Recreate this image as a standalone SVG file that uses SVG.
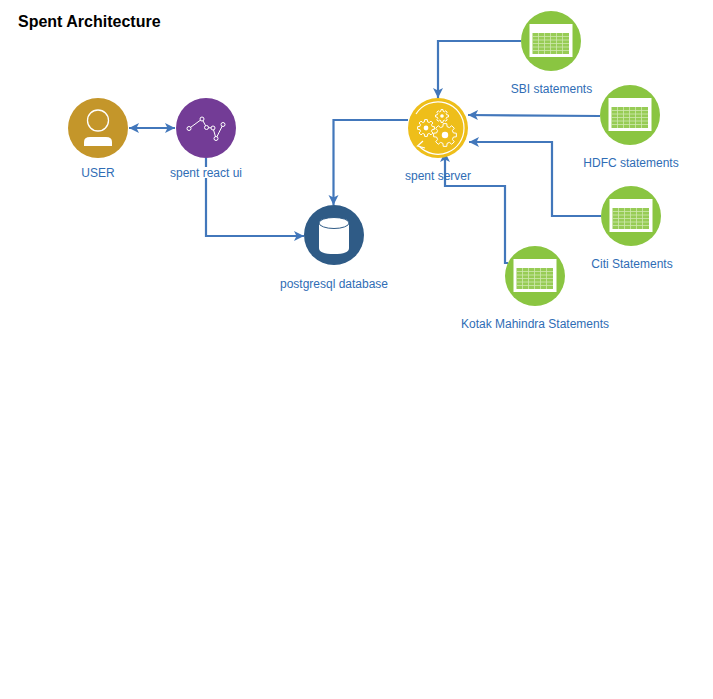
<svg xmlns="http://www.w3.org/2000/svg" xmlns:xlink="http://www.w3.org/1999/xlink" width="713" height="699" viewBox="0 0 713 699">
<style>
text{font-family:"Liberation Sans",Arial,sans-serif;font-size:12px;fill:#2f6db5;text-anchor:middle}
.title{font-size:16px;font-weight:bold;fill:#000;text-anchor:start}
.c{fill:none;stroke:#4277bb;stroke-width:2.200}
.w{fill:none;stroke:#fff}
.gp{fill:#eebe1a;stroke:#fff;stroke-width:1;vector-effect:non-scaling-stroke;stroke-linejoin:round}
</style>
<defs>
<marker id="a" markerUnits="userSpaceOnUse" markerWidth="12" markerHeight="12" refX="10" refY="6" orient="auto-start-reverse"><path d="M0,1 L10,6 L0,11 L2.500,6 Z" fill="#4277bb"/></marker>
<g id="sheet">
<circle r="30" fill="#8ac541"/>
<rect x="-21.500" y="-17" width="43" height="33" fill="#fff"/>
<rect x="-18.500" y="-8" width="36.500" height="21" fill="#97cc55"/>
<path d="M-18.500,-4.500H18M-18.500,-1H18M-18.500,2.500H18M-18.500,6H18M-18.500,9.500H18M-12.500,-8V13M-6.500,-8V13M-.5,-8V13M5.500,-8V13M11.500,-8V13" stroke="#cfe8ae" stroke-width=".8" fill="none"/>
</g>
<g id="gear">
<path class="gp" d="M9.880,-1.560L9.880,1.560L7.280,1.810L6.430,3.860L8.090,5.880L5.880,8.090L3.860,6.430L1.810,7.280L1.560,9.880L-1.560,9.880L-1.810,7.280L-3.860,6.430L-5.880,8.090L-8.090,5.880L-6.430,3.860L-7.280,1.810L-9.880,1.560L-9.880,-1.560L-7.280,-1.810L-6.430,-3.860L-8.090,-5.880L-5.880,-8.090L-3.860,-6.430L-1.810,-7.280L-1.560,-9.880L1.560,-9.880L1.810,-7.280L3.860,-6.430L5.880,-8.090L8.090,-5.880L6.430,-3.860L7.280,-1.810Z"/>
<circle r="2.800" fill="#fff"/>
</g>
</defs>
<rect width="713" height="699" fill="#fff"/>
<text class="title" x="18" y="27">Spent Architecture</text>
<g id="connectors">
<path class="c" d="M129,128H175" marker-start="url(#a)" marker-end="url(#a)"/>
<path class="c" d="M206,158V236H304" marker-end="url(#a)"/>
<path class="c" d="M408,120H333.500V205" marker-end="url(#a)"/>
<path class="c" d="M521,41H438V98" marker-end="url(#a)"/>
<path class="c" d="M600,116L468,115" marker-end="url(#a)"/>
<path class="c" d="M601,216H552V142H469" marker-end="url(#a)"/>
<path class="c" d="M508,263H505V186H445V152" marker-end="url(#a)"/>
</g>
<g id="user">
<circle cx="98" cy="128" r="30" fill="#c4962a"/>
<circle cx="98" cy="120.500" r="10.500" fill="none" stroke="#fff" stroke-width="1.300"/>
<path d="M84,146V142Q84,137 90,137H106Q112,137 112,142V146Z" fill="#fff"/>
<text x="98" y="177">USER</text>
</g>
<g id="react-ui">
<circle cx="206" cy="128" r="30" fill="#733c96"/>
<path d="M189,128.500L202,119L206.500,127.500L213,128L216,138.500L223,124.500" fill="none" stroke="#fff"/>
<g fill="#733c96" stroke="#fff"><circle cx="189" cy="128.500" r="2"/><circle cx="202" cy="119" r="2"/><circle cx="206.500" cy="127.500" r="2"/><circle cx="213" cy="128" r="2"/><circle cx="216" cy="138.500" r="2"/><circle cx="223" cy="124.500" r="2"/></g>
<rect x="168" y="167" width="76" height="11" fill="#fff"/>
<text x="206" y="177">spent react ui</text>
</g>
<g id="database">
<circle cx="334" cy="235" r="30" fill="#2f5b86"/>
<path d="M319,223V248Q319,254 334,254Q349,254 349,248V223Z" fill="#fff"/>
<ellipse cx="334" cy="223" rx="15" ry="5.500" fill="#fff" stroke="#2f5b86"/>
<text x="334" y="288">postgresql database</text>
</g>
<g id="server">
<circle cx="438" cy="128" r="30" fill="#eebe1a"/>
<path d="M419,146A26,26 0 0 0 464,128A26,26 0 0 0 416,114" class="w" stroke-width="1.200"/>
<path d="M423,141L417.500,146L425,148" class="w" stroke-width="1.200"/>
<use xlink:href="#gear" href="#gear" transform="translate(426 128) scale(.85)"/>
<use xlink:href="#gear" href="#gear" transform="translate(442 116) scale(.65)"/>
<use xlink:href="#gear" href="#gear" transform="translate(445 135) scale(1.150)"/>
<text x="438" y="180">spent server</text>
</g>
<g id="sbi">
<use xlink:href="#sheet" href="#sheet" transform="translate(551 41)"/>
<text x="551.500" y="93">SBI statements</text>
</g>
<g id="hdfc">
<use xlink:href="#sheet" href="#sheet" transform="translate(630 115)"/>
<text x="631" y="167">HDFC statements</text>
</g>
<g id="citi">
<use xlink:href="#sheet" href="#sheet" transform="translate(631 216)"/>
<text x="632" y="268">Citi Statements</text>
</g>
<g id="kotak">
<use xlink:href="#sheet" href="#sheet" transform="translate(535 276)"/>
<text x="535" y="328">Kotak Mahindra Statements</text>
</g>
</svg>
